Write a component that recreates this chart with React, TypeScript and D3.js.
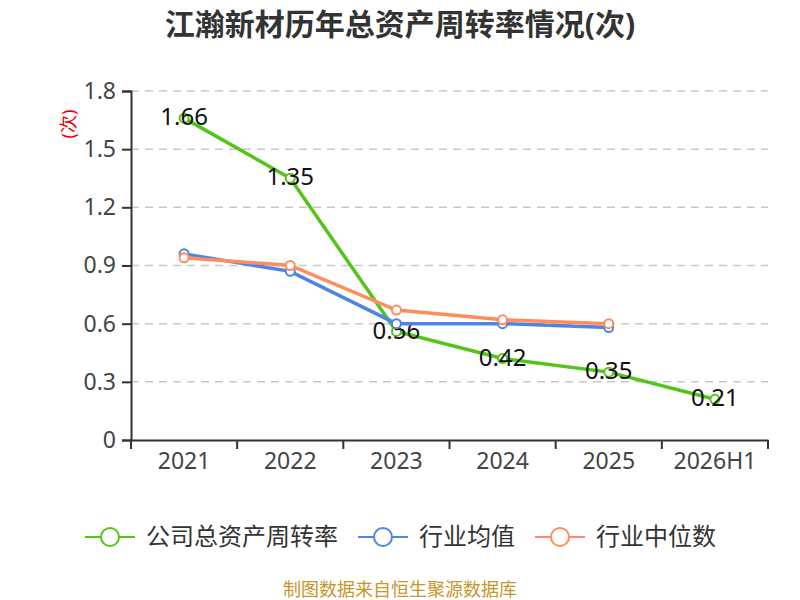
import React, { useRef, useEffect } from 'react';
import * as d3 from 'd3';

const categories = ['2021', '2022', '2023', '2024', '2025', '2026H1'];
const companyTurnover = [1.66, 1.35, 0.56, 0.42, 0.35, 0.21];
const industryAvg = [0.96, 0.87, 0.6, 0.6, 0.58];
const industryMedian = [0.94, 0.9, 0.67, 0.62, 0.6];
const yTicks = [0, 0.3, 0.6, 0.9, 1.2, 1.5, 1.8];

const series = [
  { name: '公司总资产周转率', values: companyTurnover, color: '#52c41a', labels: true },
  { name: '行业均值', values: industryAvg, color: '#4e84e6', labels: false },
  { name: '行业中位数', values: industryMedian, color: '#ff8c5a', labels: false },
];

const FONT = '"Noto Sans", "Noto Sans CJK SC", sans-serif';

const App: React.FC = () => {
  const svgRef = useRef<SVGSVGElement | null>(null);

  useEffect(() => {
    if (!svgRef.current) return;
    const svg = d3.select(svgRef.current);
    svg.selectAll('*').remove();

    const left = 131, right = 768, top = 91, bottom = 440;

    const x = d3.scaleBand<string>().domain(categories).range([left, right]);
    const y = d3.scaleLinear().domain([0, 1.8]).range([bottom, top]);
    const cx = (i: number) => (x(categories[i]) as number) + x.bandwidth() / 2;

    // Title
    svg.append('text')
      .attr('x', 400).attr('y', 35)
      .attr('text-anchor', 'middle')
      .style('font-family', FONT)
      .style('font-size', '30px')
      .style('font-weight', 'bold')
      .attr('fill', '#333')
      .text('江瀚新材历年总资产周转率情况(次)');

    // Unit label
    svg.append('text')
      .attr('transform', 'translate(69,124) rotate(-90)')
      .attr('text-anchor', 'middle')
      .attr('dy', '0.35em')
      .style('font-family', FONT)
      .style('font-size', '18px')
      .attr('fill', '#e00')
      .text('(次)');

    // Grid
    svg.append('g')
      .selectAll('line')
      .data(yTicks.filter(t => t > 0))
      .join('line')
      .attr('x1', left).attr('x2', right)
      .attr('y1', d => y(d)).attr('y2', d => y(d))
      .attr('stroke', '#c8c8c8')
      .attr('stroke-width', 1.5)
      .attr('stroke-dasharray', '8,6');

    // Y axis
    const yAxis = svg.append('g')
      .attr('transform', `translate(${left},0)`)
      .call(d3.axisLeft(y).tickValues(yTicks).tickSize(9).tickPadding(6)
        .tickFormat(d => (d === 0 ? '0' : d3.format('.1f')(d as number))));
    yAxis.select('.domain').attr('stroke', '#333').attr('stroke-width', 2);
    yAxis.selectAll('.tick line').attr('stroke', '#333').attr('stroke-width', 2);
    yAxis.selectAll('.tick text')
      .attr('fill', '#444')
      .style('font-family', FONT)
      .style('font-size', '23px');

    // X axis
    const xAxis = svg.append('g')
      .attr('transform', `translate(0,${bottom})`)
      .call(d3.axisBottom(x).tickSize(0).tickPadding(13));
    xAxis.select('.domain').attr('stroke', '#333').attr('stroke-width', 2);
    xAxis.selectAll('.tick text')
      .attr('fill', '#444')
      .style('font-family', FONT)
      .style('font-size', '23px');
    xAxis.append('g')
      .selectAll('line')
      .data([...categories.map(c => x(c) as number), right])
      .join('line')
      .attr('x1', d => d).attr('x2', d => d)
      .attr('y1', 0).attr('y2', 9)
      .attr('stroke', '#333')
      .attr('stroke-width', 2);

    const line = d3.line<number>().x((_, i) => cx(i)).y(d => y(d));

    series.forEach(s => {
      const g = svg.append('g');
      g.append('path')
        .datum(s.values)
        .attr('d', line)
        .attr('fill', 'none')
        .attr('stroke', s.color)
        .attr('stroke-width', 3.5);
      g.selectAll('circle')
        .data(s.values)
        .join('circle')
        .attr('cx', (_, i) => cx(i))
        .attr('cy', d => y(d))
        .attr('r', 4.5)
        .attr('fill', '#fff')
        .attr('stroke', s.color)
        .attr('stroke-width', 2);
      if (s.labels) {
        g.selectAll('text')
          .data(s.values)
          .join('text')
          .attr('x', (_, i) => cx(i))
          .attr('y', d => y(d))
          .attr('dy', '0.3em')
          .attr('text-anchor', 'middle')
          .style('font-family', FONT)
          .style('font-size', '24px')
          .attr('fill', '#111')
          .text(d => d3.format('.2f')(d));
      }
    });

    // Legend
    const legendX = [85, 358, 535];
    series.forEach((s, i) => {
      const g = svg.append('g').attr('transform', `translate(${legendX[i]},537)`);
      g.append('line')
        .attr('x1', 0).attr('x2', 50)
        .attr('y1', 0).attr('y2', 0)
        .attr('stroke', s.color)
        .attr('stroke-width', 2);
      g.append('circle')
        .attr('cx', 25).attr('cy', 0).attr('r', 9)
        .attr('fill', '#fff')
        .attr('stroke', s.color)
        .attr('stroke-width', 2);
      g.append('text')
        .attr('x', 61).attr('y', 0)
        .attr('dy', '0.35em')
        .style('font-family', FONT)
        .style('font-size', '24px')
        .attr('fill', '#333')
        .text(s.name);
    });

    // Source
    svg.append('text')
      .attr('x', 400).attr('y', 596)
      .attr('text-anchor', 'middle')
      .style('font-family', FONT)
      .style('font-size', '18px')
      .attr('fill', '#c8952a')
      .text('制图数据来自恒生聚源数据库');
  }, []);

  return (
    <svg
      ref={svgRef}
      width={800}
      height={600}
      style={{ position: 'absolute', left: 0, top: 0, background: '#fff' }}
    />
  );
};

export default App;
